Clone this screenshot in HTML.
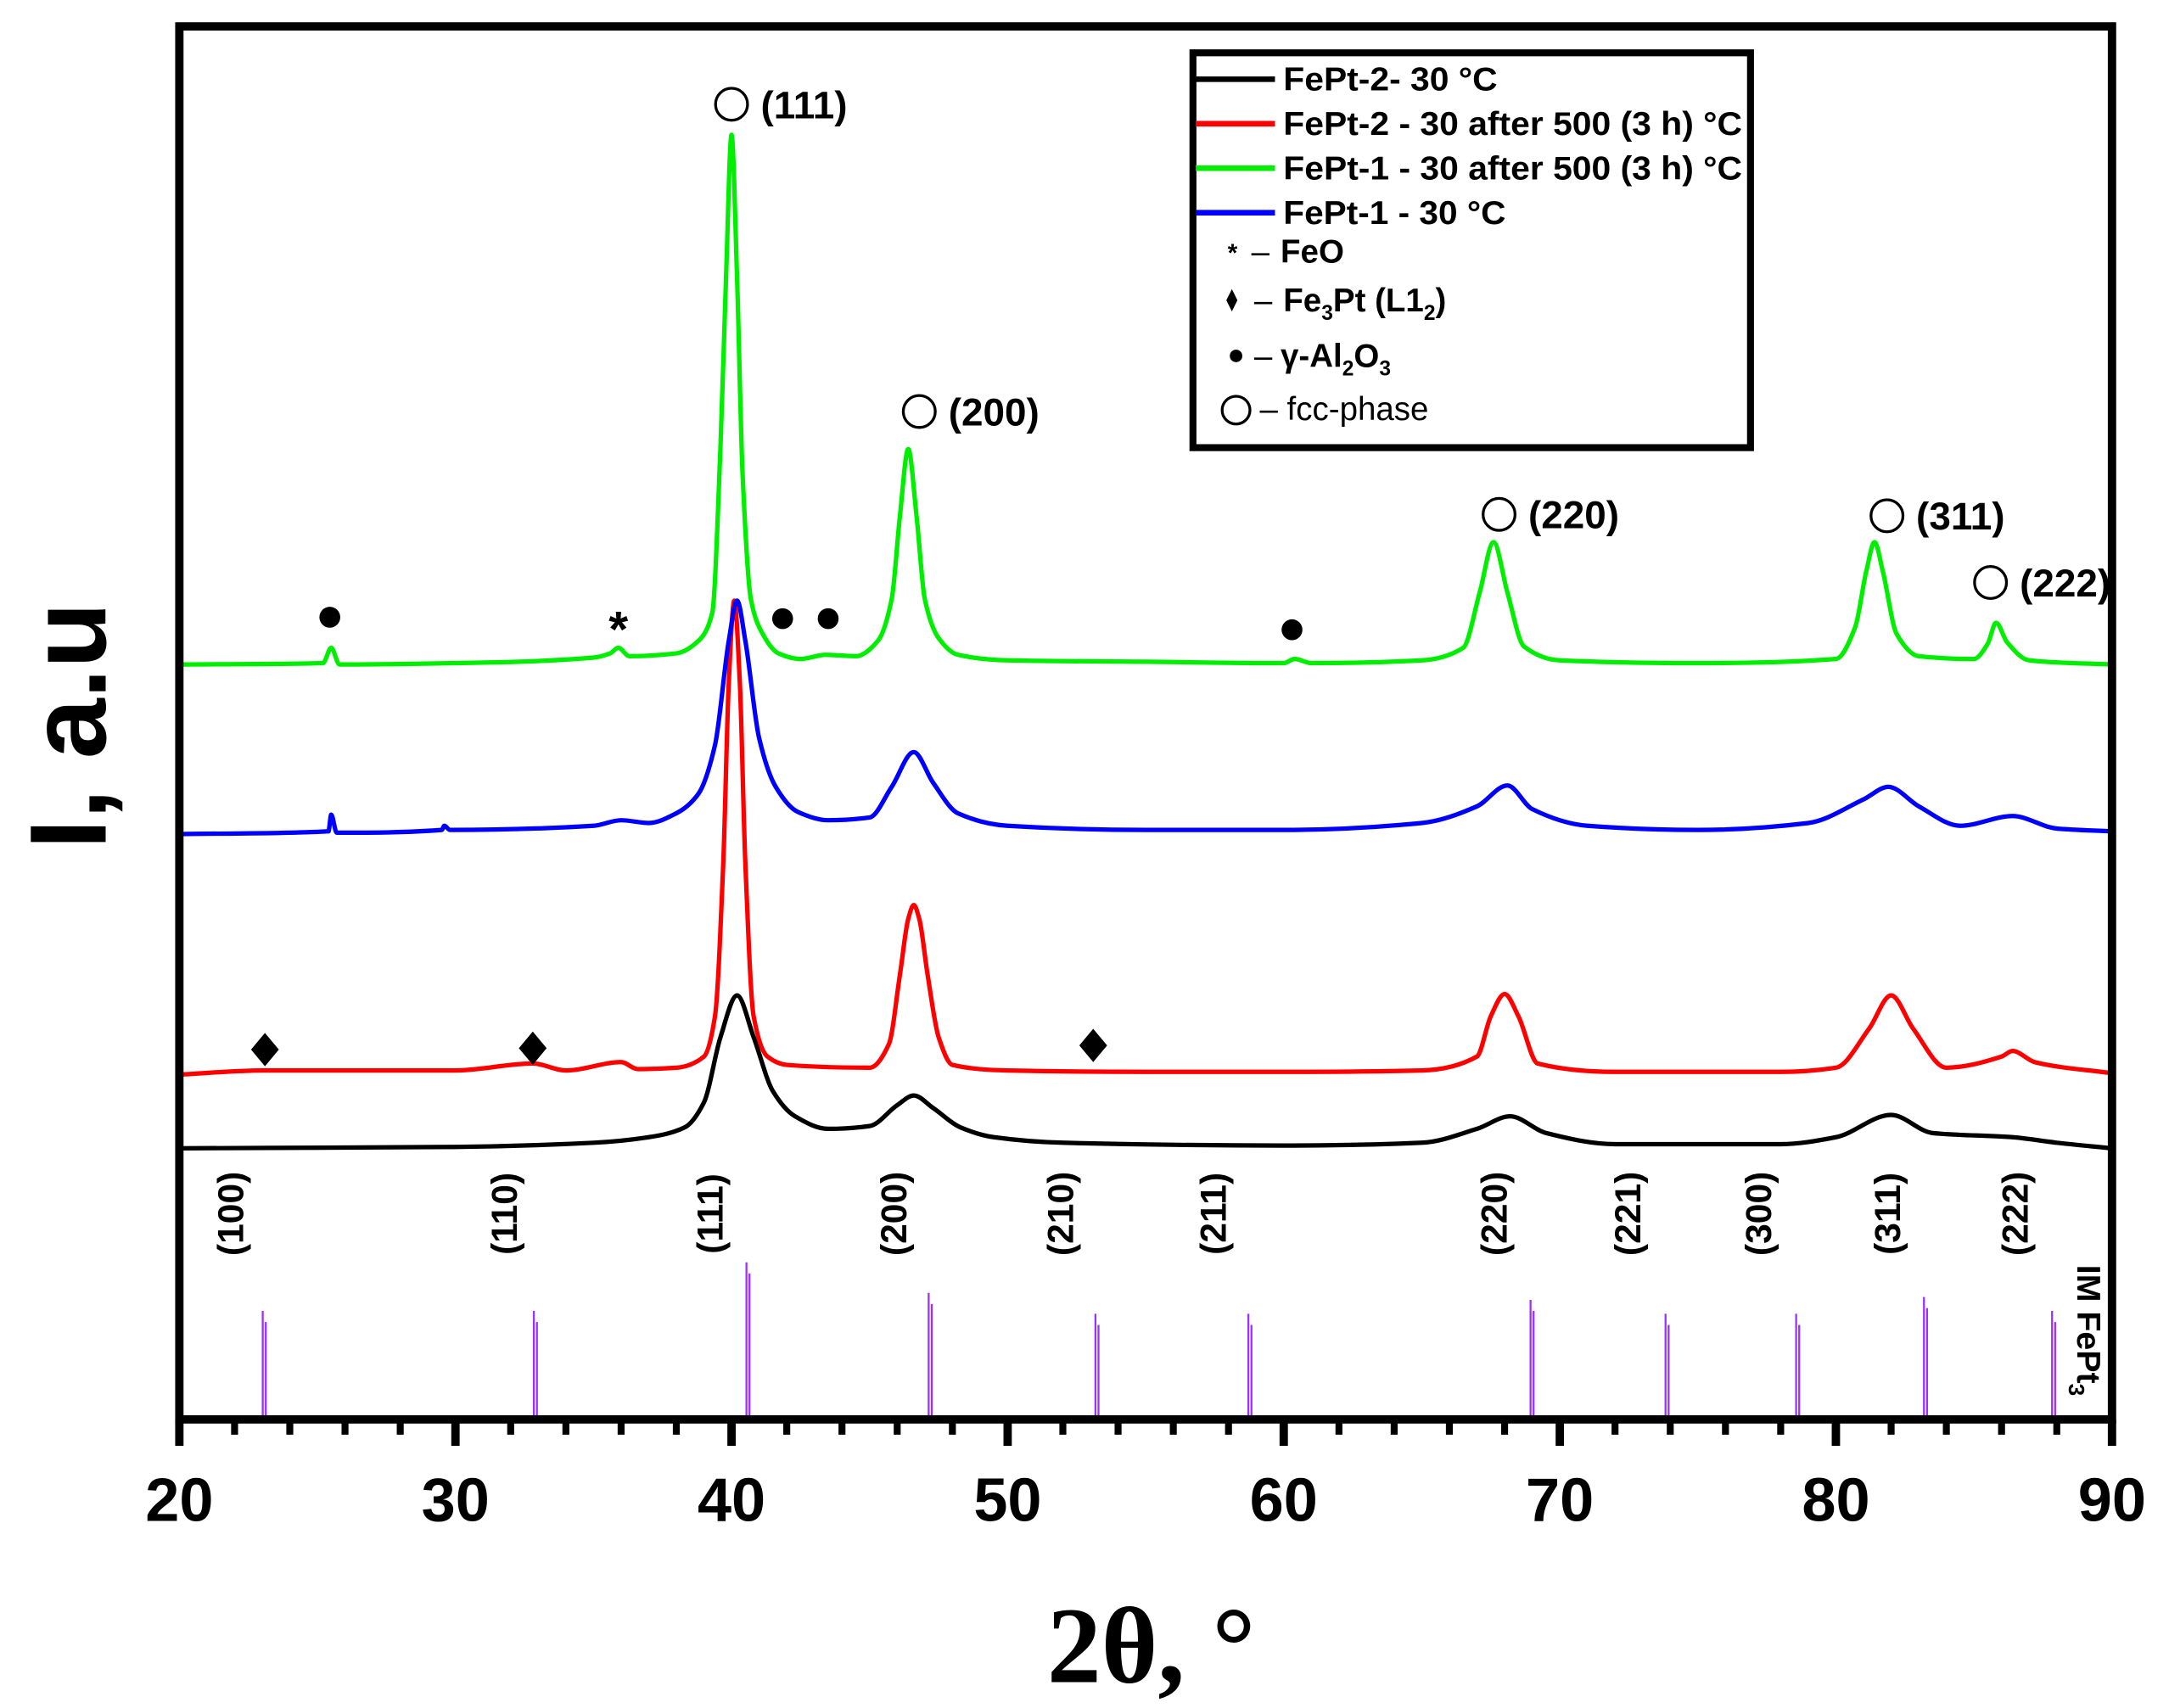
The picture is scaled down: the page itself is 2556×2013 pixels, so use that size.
<!DOCTYPE html>
<html><head><meta charset="utf-8"><style>
html,body{margin:0;padding:0;background:#fff;}
svg{display:block;font-family:"Liberation Sans",sans-serif;}
</style></head><body>
<svg id="chart" width="2556" height="2013" viewBox="0 0 1560 1228.6" preserveAspectRatio="none" xmlns="http://www.w3.org/2000/svg">
<g id="plot"></g>
</svg>
<script>
// ---- data (2θ in degrees, intensity in arbitrary units) ----
const greenX=[20,25.2,25.5,25.8,30,35,35.6,35.9,36.3,38,38.8,39.3,39.6,39.8,40,40.2,40.4,40.7,41.1,41.7,42.5,43.4,44.5,45.3,45.8,46.1,46.4,46.7,47.0,47.5,48.2,50,55,60,60.4,61,65,66.5,67.1,67.6,68.1,68.7,70,75,80,80.7,81.1,81.4,81.7,82.2,83,85,85.5,85.8,86.2,87,90];
const greenY=[543,544,555,543,544,548,551,555,549,551,560,580,700,821,924,821,680,590,566,551,547,550,549,560,590,650,698,650,590,562,550,546,545,544,547,544,546,555,595,631,595,556,546,544,547,570,610,631,610,565,549,547,558,573,559,546,543];
const blueX=[20,25.4,25.5,25.7,29.5,29.6,29.8,35,36,37,38,38.8,39.4,39.9,40.2,40.5,41.0,41.6,42.4,43.5,45,45.8,46.6,47.3,48.2,50,55,60,65,67,68.1,69,71,75,79,81,81.9,83,84.5,86.4,88,90];
const blueY=[421,423,435,422,424,427,424,427,431,429,436,450,485,560,589,560,490,455,437,431,433,455,480,458,436,427,424,424,429,441,456,439,427,424,429,446,455,441,427,434,425,423];
const redX=[20,23,30,32.8,34,36,36.6,38,39,39.4,39.7,39.9,40.1,40.3,40.5,40.8,41.3,42,45,45.7,46.1,46.4,46.6,46.8,47.1,47.5,48,50,55,60,65,67,67.5,68,68.5,69.2,72,78,80,81.2,82,82.8,84,86,86.4,87.2,90];
const redY=[248,251,251,256,251,257,252,253,261,290,400,530,589,530,400,290,261,255,253,270,320,360,370,360,320,275,255,251,250,250,251,261,290,306,290,256,250,250,253,281,305,281,253,261,265,257,249];
const blackX=[20,30,35,37,38.3,39.0,39.6,40.2,40.8,41.5,42.3,43.5,45,46,46.6,47.3,48.3,49.5,52,60,65,67,68.2,69.5,72,78,80,82,83.5,86.4,88,90];
const blackY=[195,196,199,203,210,228,275,305,275,236,218,209,211,226,233,224,210,203,199,197,199,209,218,206,198,198,203,219,206,203,199,195];
// reference pattern IM FePt3
const stickX=[23.02,32.84,40.54,47.14,53.18,58.72,68.94,73.83,78.56,83.19,87.83];
const stickY=[78,78,113,91,76,76,86,76,76,88,78];
const hklLabels=["(100)","(110)","(111)","(200)","(210)","(211)","(220)","(221)","(300)","(311)","(222)"];
const hklX=[21.85,31.77,39.22,45.87,51.91,57.45,67.62,72.46,77.19,81.87,86.5];
const xTicks=[20,30,40,50,60,70,80,90];
// phase markers
const fccX=[40.0,46.8,67.8,81.85,85.6]; const fccY=[946,725,651,650,602];
const fccLabels=["(111)","(200)","(220)","(311)","(222)"];
const alX=[25.45,41.85,43.5,60.3]; const alY=[577,576,576,568];
const feoX=[35.9]; const feoY=[572];
const fe3ptX=[23.1,32.8,53.1]; const fe3ptY=[266,267,269];

// ---- axes ----
const X0=129,X1=1519,Y0=1021,Y1=19;
const xs=v=>X0+(v-20)*(X1-X0)/70;
const ys=v=>Y0-v*(Y0-Y1)/1002;
const NS="http://www.w3.org/2000/svg";
const g=document.getElementById('plot');
function mk(tag,attrs,parent){const e=document.createElementNS(NS,tag);for(const k in attrs)e.setAttribute(k,attrs[k]);(parent||g).appendChild(e);return e;}

// monotone cubic path
function monoPath(px,py){
  const n=px.length,d=[],m=[];
  for(let i=0;i<n-1;i++)d.push((py[i+1]-py[i])/(px[i+1]-px[i]));
  m[0]=d[0];m[n-1]=d[n-2];
  for(let i=1;i<n-1;i++){ if(d[i-1]*d[i]<=0)m[i]=0; else {const h0=px[i]-px[i-1],h1=px[i+1]-px[i];m[i]=3*(h0+h1)/((2*h1+h0)/d[i-1]+(h1+2*h0)/d[i]);}}
  let s='M'+px[0]+','+py[0];
  for(let i=0;i<n-1;i++){const h=(px[i+1]-px[i])/3;
    s+=` C${px[i]+h},${py[i]+m[i]*h} ${px[i+1]-h},${py[i+1]-m[i+1]*h} ${px[i+1]},${py[i+1]}`;}
  return s;
}

// sticks
stickX.forEach((x,i)=>{
  const s=mk('g',{});
  
  
  mk('line',{x1:xs(x),x2:xs(x),y1:Y0,y2:ys(stickY[i]),stroke:'#9b30ff','stroke-width':1.4},s);
  mk('line',{x1:xs(x)+2.2,x2:xs(x)+2.2,y1:Y0,y2:ys(stickY[i]-8),stroke:'#9b30ff','stroke-width':1.4},s);
});
hklLabels.forEach((t,i)=>{
  const e=mk('text',{x:0,y:0,transform:`translate(${xs(hklX[i])+9},873) rotate(-90)`,'text-anchor':'middle','font-size':26,'font-weight':'bold'});
  e.textContent=t;
  
  
});
// series
function series(X,Y,color,name){
  const p=mk('path',{d:monoPath(X.map(xs),Y.map(ys)),fill:'none',stroke:color,'stroke-width':3.2,'stroke-linejoin':'round'});
  
  
}
series(blackX,blackY,'#000','series-fept2-30c');
series(redX,redY,'#ff0000','series-fept2-after-500');
series(blueX,blueY,'#0000ff','series-fept1-30c');
series(greenX,greenY,'#00ee00','series-fept1-after-500');

// markers
fccX.forEach((x,i)=>{
  const c=mk('circle',{cx:xs(x),cy:ys(fccY[i]),r:11.5,fill:'none',stroke:'#000','stroke-width':2});
  
  
  const t=mk('text',{x:xs(x)+21,y:ys(fccY[i])+10,'font-size':28,'font-weight':'bold'});
  t.textContent=fccLabels[i];
  
  
});
alX.forEach((x,i)=>{
  const c=mk('circle',{cx:xs(x),cy:ys(alY[i]),r:7.5,fill:'#000'});
  
  
});
feoX.forEach((x,i)=>{
  const t=mk('text',{x:xs(x),y:ys(feoY[i])+16,'text-anchor':'middle','font-size':36,'font-weight':'bold'});
  t.textContent='*';
  
  
});
fe3ptX.forEach((x,i)=>{
  const cx=xs(x),cy=ys(fe3ptY[i]);
  const d=mk('polygon',{points:`${cx},${cy-12} ${cx+10},${cy} ${cx},${cy+12} ${cx-10},${cy}`,fill:'#000'});
  
  
});

// frame & ticks
const fr=mk('rect',{x:X0,y:Y1,width:X1-X0,height:Y0-Y1,fill:'none',stroke:'#000','stroke-width':6});


for(let v=22;v<90;v+=2){ if(v%10) mk('line',{x1:xs(v),x2:xs(v),y1:Y0,y2:Y0+11,stroke:'#000','stroke-width':5}); }
xTicks.forEach(v=>{
  mk('line',{x1:xs(v),x2:xs(v),y1:Y0,y2:Y0+19,stroke:'#000','stroke-width':6});
  const t=mk('text',{x:xs(v),y:1094,'text-anchor':'middle','font-size':44,'font-weight':'bold'});
  t.textContent=v;
  
  
});
</script>
<script>
const svg=document.getElementById('chart');
svg.insertAdjacentHTML('beforeend',`
<text x="828" y="1210" text-anchor="middle" font-family="Liberation Serif,serif" font-size="78" font-weight="bold">2θ, °</text>
<text transform="translate(76,522) rotate(-90)" text-anchor="middle" font-size="78" font-weight="bold">I, a.u</text>
<text transform="translate(1494,957) rotate(90)" text-anchor="middle" font-size="24" font-weight="bold">IM FePt<tspan font-size="16" dy="6">3</tspan></text>
<g>
<rect x="858" y="38" width="401" height="284" fill="#fff" stroke="#000" stroke-width="5"/>
<line x1="860" x2="917" y1="57" y2="57" stroke="#000" stroke-width="4"/>
<line x1="860" x2="917" y1="89" y2="89" stroke="#f00" stroke-width="4"/>
<line x1="860" x2="917" y1="121" y2="121" stroke="#0e0" stroke-width="4"/>
<line x1="860" x2="917" y1="153" y2="153" stroke="#00f" stroke-width="4"/>
<g font-size="23.5" font-weight="bold">
<text x="923" y="65" textLength="154" lengthAdjust="spacingAndGlyphs">FePt-2- 30 °C</text>
<text x="923" y="97" textLength="330" lengthAdjust="spacingAndGlyphs">FePt-2 - 30 after 500 (3 h) °C</text>
<text x="923" y="129" textLength="330" lengthAdjust="spacingAndGlyphs">FePt-1 - 30 after 500 (3 h) °C</text>
<text x="923" y="161" textLength="160" lengthAdjust="spacingAndGlyphs">FePt-1 - 30 °C</text>
<text x="883" y="188" font-size="18">*</text>
<text x="900" y="189" font-weight="normal">–</text>
<text x="921" y="189">FeO</text>
<polygon points="886,208 890,216 886,224 882,216" fill="#000"/>
<text x="902" y="224" font-weight="normal">–</text>
<text x="923" y="224">Fe<tspan font-size="15" dy="6">3</tspan><tspan dy="-6">Pt (L1</tspan><tspan font-size="15" dy="6">2</tspan><tspan dy="-6">)</tspan></text>
<circle cx="889" cy="256" r="4.5" fill="#000"/>
<text x="902" y="264" font-weight="normal">–</text>
<text x="921" y="264">γ-Al<tspan font-size="15" dy="6">2</tspan><tspan dy="-6">O</tspan><tspan font-size="15" dy="6">3</tspan></text>
<circle cx="889" cy="295" r="10" fill="none" stroke="#000" stroke-width="2"/>
<text x="906" y="302" font-weight="normal">– fcc-phase</text>
</g></g>`);
</script>
</body></html>
